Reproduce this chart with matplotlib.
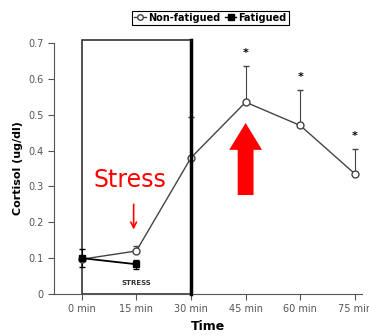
import matplotlib.pyplot as plt
from matplotlib.patches import Rectangle, FancyArrow
from matplotlib.lines import Line2D

times = ["0 min", "15 min", "30 min", "45 min", "60 min", "75 min"]
non_fat = [0.097, 0.12, 0.38, 0.535, 0.47, 0.335]
non_fat_err = [0.0, 0.015, 0.115, 0.10, 0.10, 0.07]
fatigued = [0.1, 0.083]
fatigued_err = [0.025, 0.012]
star_y = [0.672, 0.605, 0.44]
star_x = [3, 4, 5]

fig = plt.figure(figsize=(3.69, 3.36), dpi=100)
ax = fig.add_axes([0.146, 0.125, 0.835, 0.747])
x = list(range(len(times)))

gray = "#444444"
ax.errorbar(x, non_fat, yerr=[[0]*6, non_fat_err], color=gray, lw=1, marker='o',
            mfc='white', mec=gray, ms=5, capsize=2, elinewidth=0.8, zorder=3)
ax.errorbar(x[:2], fatigued, yerr=fatigued_err, color='black', lw=1.3, marker='s',
            ms=4.5, capsize=2, elinewidth=0.8, zorder=3)
for sx, sy in zip(star_x, star_y):
    ax.text(sx, sy, "*", ha='center', va='center', fontsize=8, fontweight='bold')

# stress box
ax.add_patch(Rectangle((0, 0), 2, 0.707, fill=False, ec='#333333', lw=1.2, clip_on=False, zorder=2))
ax.plot([2, 2], [0, 0.707], color='black', lw=2.5, clip_on=False, zorder=4)
ax.text(1, 0.03, "STRESS", ha='center', va='center', fontsize=5, fontweight='bold', color='#333333')

# red annotations
ax.text(0.88, 0.318, "Stress", color='red', fontsize=17, ha='center', va='center')
ax.annotate("", xy=(0.95, 0.172), xytext=(0.95, 0.258),
            arrowprops=dict(arrowstyle='->', color='red', lw=1.2))
ax.add_patch(FancyArrow(3.0, 0.276, 0, 0.126, width=0.29, head_width=0.6, head_length=0.075,
                        length_includes_head=False, color='red', ec='none', zorder=5))

ax.set_xlim(-0.51, 5.13)
ax.set_ylim(0, 0.7)
ax.set_xticks(x)
ax.set_xticklabels(times)
ax.set_yticks([0, 0.1, 0.2, 0.3, 0.4, 0.5, 0.6, 0.7])
ax.set_yticklabels(["0", "0.1", "0.2", "0.3", "0.4", "0.5", "0.6", "0.7"])
ax.tick_params(labelsize=7, colors='#555555', length=4)
for s in ['top', 'right']:
    ax.spines[s].set_visible(False)
for s in ['left', 'bottom']:
    ax.spines[s].set_color('#555555')
ax.set_ylabel("Cortisol (ug/dl)", fontsize=8, fontweight='bold')
ax.set_xlabel("Time", fontsize=9, fontweight='bold')

handles = [Line2D([], [], color=gray, marker='o', mfc='white', ms=4, lw=1),
           Line2D([], [], color='black', marker='s', ms=4, lw=1)]
leg = fig.legend(handles, ["Non-fatigued", "Fatigued"], loc='center', bbox_to_anchor=(0.57, 0.947),
                 ncol=2, prop={'weight': 'bold', 'size': 7}, handlelength=1.2,
                 handletextpad=0.2, columnspacing=0.5, borderpad=0.2, fancybox=False,
                 edgecolor='black', framealpha=1)
leg.get_frame().set_linewidth(0.8)

fig.savefig("out.png", dpi=100)
